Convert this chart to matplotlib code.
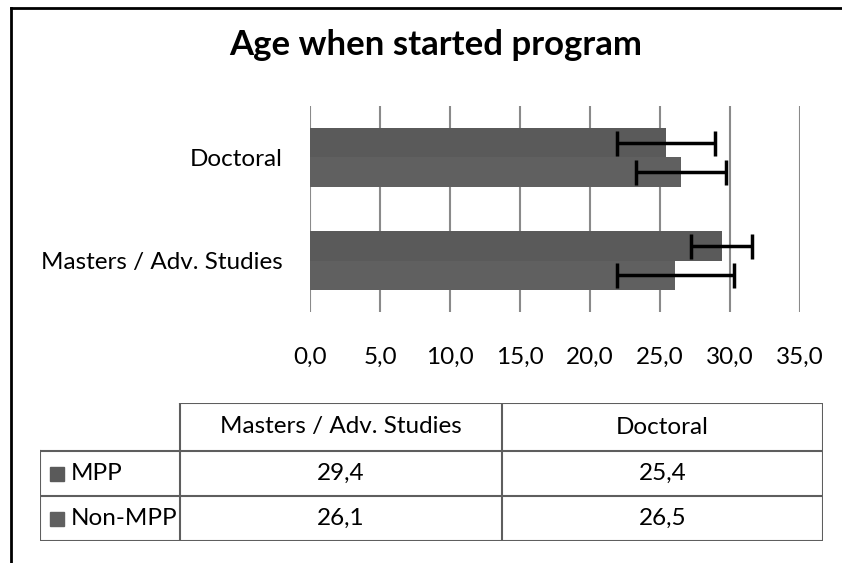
import matplotlib
matplotlib.use("Agg")
import matplotlib.pyplot as plt
from matplotlib.lines import Line2D
from matplotlib.patches import Rectangle
import numpy as np

# data
categories = ["Masters / Adv. Studies", "Doctoral"]
series = ["MPP", "Non-MPP"]
mpp = [29.4, 25.4]
non_mpp = [26.1, 26.5]
mpp_err = [2.2, 3.5]
non_mpp_err = [4.2, 3.2]
xticks = [0, 5, 10, 15, 20, 25, 30, 35]

plt.rcParams['font.family'] = ['Lato', 'DejaVu Sans']

W, H = 842, 563
fig = plt.figure(figsize=(W / 100, H / 100), dpi=100)

def px(x0, y0, x1, y1):
    # pixel box -> figure fraction
    return [x0 / W, 1 - y1 / H, (x1 - x0) / W, (y1 - y0) / H]

bar_color = "#5a5a5a"
bar_color2 = "#606060"
fs = 17.5

ax = fig.add_axes(px(310, 106, 800, 312))
y = np.arange(len(categories))
h = 0.286
ax.barh(y + h / 2, mpp, height=h, color=bar_color, zorder=2)
ax.barh(y - h / 2, non_mpp, height=h, color=bar_color2, zorder=2)
ax.errorbar(mpp, y + h / 2, xerr=mpp_err, fmt="none", ecolor="black",
            elinewidth=2.5, capsize=9, capthick=2.5, zorder=3)
ax.errorbar(non_mpp, y - h / 2, xerr=non_mpp_err, fmt="none", ecolor="black",
            elinewidth=2.5, capsize=9, capthick=2.5, zorder=3)

ax.set_xlim(0, 35)
ax.set_ylim(-0.5, 1.5)
ax.set_xticks(xticks)
ax.set_xticklabels([f"{v:.1f}".replace(".", ",") for v in xticks], fontsize=fs)
ax.set_yticks(y)
ax.set_yticklabels(categories, fontsize=fs)
ax.tick_params(length=0)
ax.tick_params(axis="x", pad=25)
ax.tick_params(axis="y", pad=19.5)
ax.grid(axis="x", color="#8a8a8a", linewidth=1.5, zorder=1)
for s in ax.spines.values():
    s.set_visible(False)

fig.text(436 / W, 1 - 45 / H, "Age when started program", ha="center",
         va="center", fontsize=25, fontweight="bold")

# data table under the chart
tab = fig.add_axes(px(40, 403, 823, 541))
tab.set_xlim(40, 823)
tab.set_ylim(541, 403)
tab.axis("off")
col_edges = [40, 180, 502, 823]
row_edges = [403, 451, 496, 541]
lc = "#5e5e5e"
tab.plot([180, 823], [403, 403], color=lc, lw=1.5)
for r in row_edges[1:]:
    tab.plot([40, 823], [r, r], color=lc, lw=1.5)
tab.plot([40, 40], [451, 541], color=lc, lw=1.5)
for c in col_edges[1:]:
    tab.plot([c, c], [403, 541], color=lc, lw=1.5)
for j, cat in enumerate(categories):
    cx = (col_edges[j + 1] + col_edges[j + 2]) / 2
    tab.text(cx, (row_edges[0] + row_edges[1]) / 2, cat, ha="center",
             va="center", fontsize=fs)
rows = [mpp, non_mpp]
colors = [bar_color, bar_color2]
for i, name in enumerate(series):
    cy = (row_edges[i + 1] + row_edges[i + 2]) / 2
    tab.add_patch(Rectangle((50, cy - 7), 14, 14, color=colors[i]))
    tab.text(71, cy, name, ha="left", va="center", fontsize=fs)
    for j, v in enumerate(rows[i]):
        cx = (col_edges[j + 1] + col_edges[j + 2]) / 2
        tab.text(cx, cy, f"{v:.1f}".replace(".", ","), ha="center",
                 va="center", fontsize=fs)

# outer frame edge (top and left)
fig.add_artist(Line2D([11 / W, 1], [1 - 8 / H, 1 - 8 / H], color="black", lw=2))
fig.add_artist(Line2D([11 / W, 11 / W], [0, 1 - 8 / H], color="black", lw=2))

fig.savefig("out.png", dpi=100)
